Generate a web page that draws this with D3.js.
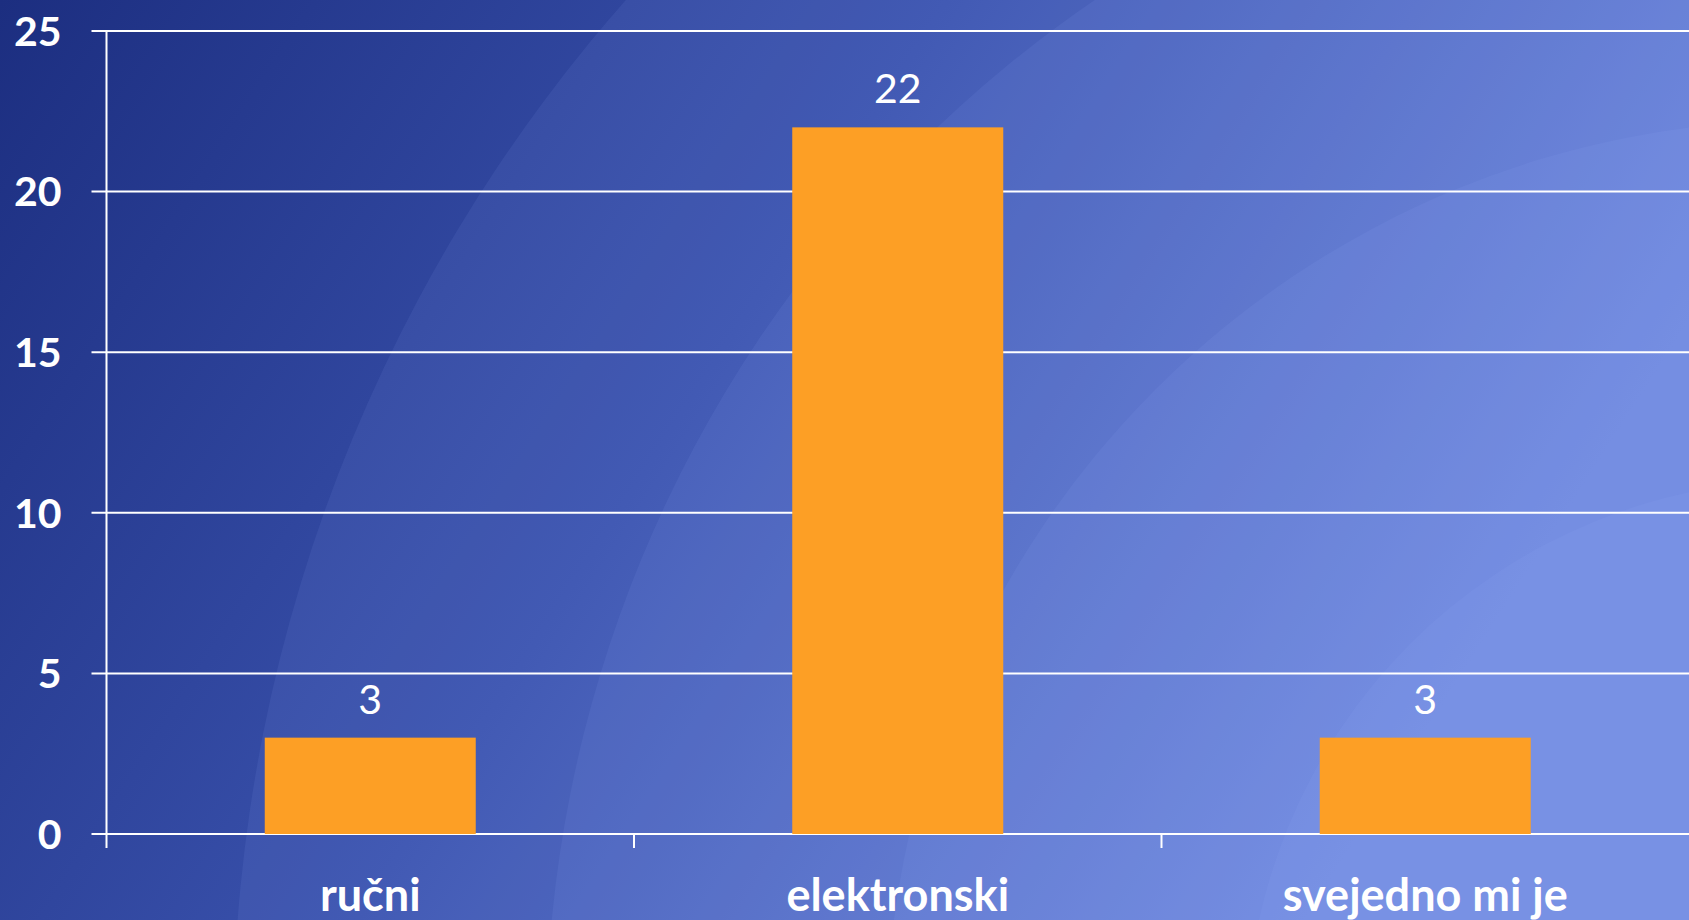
<!DOCTYPE html>
<html>
<head>
<meta charset="utf-8">
<script src="https://cdn.jsdelivr.net/npm/d3@7"></script>
<style>
  html, body { margin: 0; padding: 0; overflow: hidden; }
  svg { display: block; }
</style>
</head>
<body>
<svg id="chart"></svg>
<script>
const categories = ["ručni", "elektronski", "svejedno mi je"];
const values = [3, 22, 3];
const yTicks = [0, 5, 10, 15, 20, 25];

const W = 1689, H = 920;
const margin = { top: 31, right: 0, bottom: 86, left: 106.5 };
const width = W - margin.left - margin.right;
const height = H - margin.top - margin.bottom;

const svg = d3.select("#chart").attr("width", W).attr("height", H);

// background: dark blue to light blue, with soft arc bands
const defs = svg.append("defs");
const bg = defs.append("linearGradient").attr("id", "bg")
    .attr("x1", "0").attr("y1", "0").attr("x2", "1").attr("y2", "0.35");
bg.append("stop").attr("offset", "0").attr("stop-color", "#1c2e80");
bg.append("stop").attr("offset", "0.5").attr("stop-color", "#3a52ad");
bg.append("stop").attr("offset", "1").attr("stop-color", "#6a84da");
svg.append("rect").attr("width", W).attr("height", H).attr("fill", "url(#bg)");

const arcs = svg.append("g");
[1573, 1260, 920, 560].forEach(r => {
    arcs.append("circle")
        .attr("cx", 1806).attr("cy", 1040).attr("r", r)
        .attr("fill", "#9fb3ff").attr("fill-opacity", 0.09);
});

const g = svg.append("g").attr("transform", `translate(${margin.left},${margin.top})`);

const x = d3.scaleBand()
    .domain(categories)
    .range([0, width])
    .paddingInner(0.6)
    .paddingOuter(0.3);

const y = d3.scaleLinear()
    .domain([0, 25])
    .range([height, 0]);

// gridlines
g.selectAll(".grid")
    .data(yTicks)
    .join("line")
    .attr("class", "grid")
    .attr("x1", -15).attr("x2", width)
    .attr("y1", d => y(d)).attr("y2", d => y(d))
    .attr("stroke", "#ffffff").attr("stroke-width", 2);

// y axis line
g.append("line")
    .attr("x1", 0).attr("x2", 0)
    .attr("y1", 0).attr("y2", height + 14)
    .attr("stroke", "#ffffff").attr("stroke-width", 2);

// category boundary ticks
const step = x.step();
g.selectAll(".xtick")
    .data(categories.slice(1))
    .join("line")
    .attr("class", "xtick")
    .attr("x1", d => x(d) - (step - x.bandwidth()) / 2)
    .attr("x2", d => x(d) - (step - x.bandwidth()) / 2)
    .attr("y1", height).attr("y2", height + 14)
    .attr("stroke", "#ffffff").attr("stroke-width", 2);

// y tick labels
g.selectAll(".ylab")
    .data(yTicks)
    .join("text")
    .attr("class", "ylab")
    .attr("x", -45)
    .attr("y", d => y(d))
    .attr("dy", "0.36em")
    .attr("text-anchor", "end")
    .attr("fill", "#ffffff")
    .style("font-family", "Lato, 'Open Sans', sans-serif")
    .style("font-weight", "bold")
    .style("font-size", "41px")
    .text(d => d);

// bars
g.selectAll(".bar")
    .data(values)
    .join("rect")
    .attr("class", "bar")
    .attr("x", (d, i) => x(categories[i]))
    .attr("y", d => y(d))
    .attr("width", x.bandwidth())
    .attr("height", d => height - y(d))
    .attr("fill", "#fd9f25");

// value labels
g.selectAll(".val")
    .data(values)
    .join("text")
    .attr("class", "val")
    .attr("x", (d, i) => x(categories[i]) + x.bandwidth() / 2)
    .attr("y", d => y(d) - 24)
    .attr("text-anchor", "middle")
    .attr("fill", "#ffffff")
    .style("font-family", "Lato, 'Open Sans', sans-serif")
    .style("font-size", "41px")
    .text(d => d);

// category labels
g.selectAll(".cat")
    .data(categories)
    .join("text")
    .attr("class", "cat")
    .attr("x", d => x(d) + x.bandwidth() / 2)
    .attr("y", height + 77)
    .attr("text-anchor", "middle")
    .attr("fill", "#ffffff")
    .style("font-family", "Lato, 'Open Sans', sans-serif")
    .style("font-weight", "bold")
    .style("font-size", "45px")
    .text(d => d);
</script>
</body>
</html>
